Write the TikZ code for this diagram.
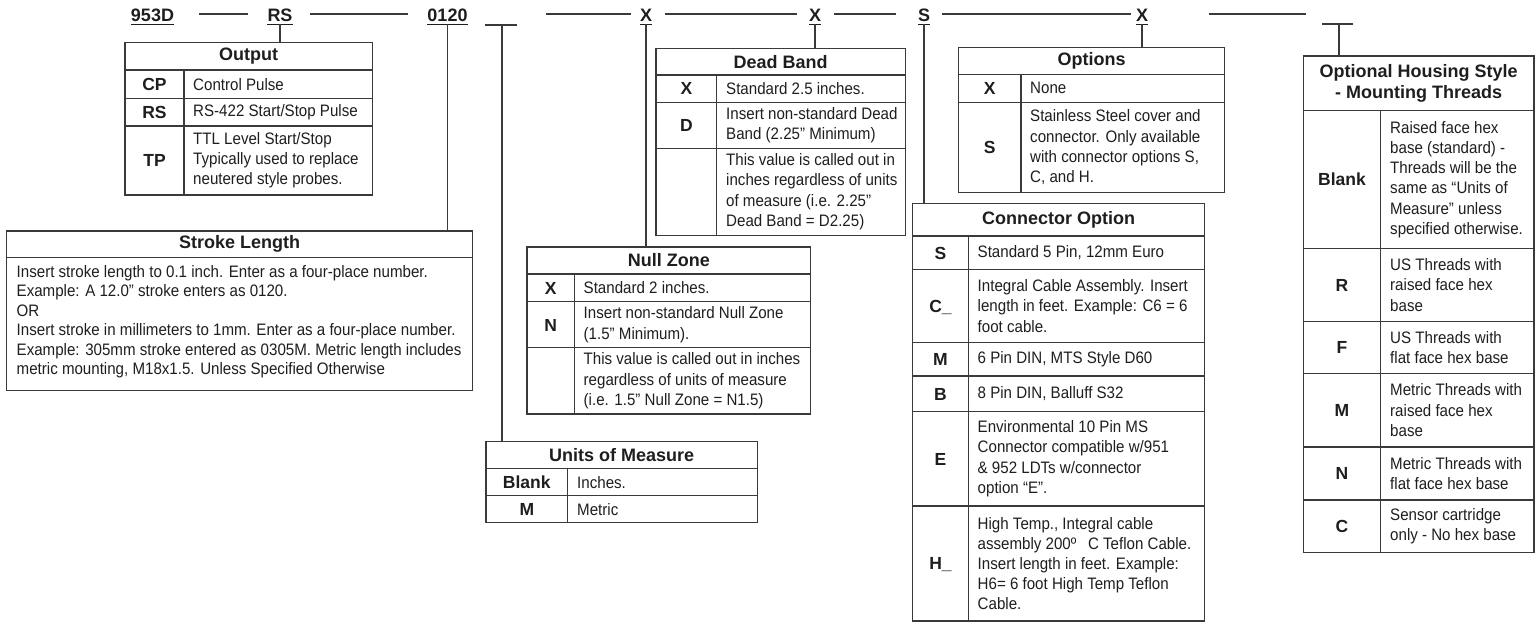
\documentclass[tikz,border=0pt]{standalone}
\usepackage{fontspec}
\setmainfont{Liberation Sans}
\newfontfamily\bodyfnt{Liberation Sans}[FakeStretch=0.91]
\definecolor{lc}{HTML}{3A3A3A}
\definecolor{tc}{HTML}{1E1E1E}
\tikzset{
  tb/.style={draw=lc, line width=1.3pt, inner sep=0pt, outer sep=0pt},
  cn/.style={draw=lc, line width=1.1pt},
  ul/.style={draw=tc, line width=1.1pt},
  dsh/.style={draw=lc, line width=1.3pt},
  hd/.style={font=\fontsize{18}{20.5}\selectfont\bfseries, text=tc, inner sep=0pt, align=center},
  ky/.style={font=\fontsize{17.5}{20}\selectfont\bfseries, text=tc, inner sep=0pt, text height=12.6pt, text depth=0pt},
  ds/.style={font=\bodyfnt\fontsize{16.6}{20.2}\selectfont, text=tc, inner sep=0pt, anchor=west, align=left},
  lbl/.style={font=\fontsize{18}{20}\selectfont\bfseries, text=tc, inner sep=0pt, anchor=base},
}
\newcommand\mktbl[5]{\node[tb, anchor=north west, minimum width={#3-#2}, minimum height={#5-#4}] (#1) at (#2,#4) {};}
\begin{document}
\begin{tikzpicture}[x=1pt,y=-1pt]
\useasboundingbox (0,0) rectangle (1539,623);
% ---------- top code line ----------
\node[lbl] (l953) at (152.5,21.5) {953D};
\node[lbl] (lRS) at (280,21.5) {RS};
\node[lbl] (l0120) at (447.5,21.5) {0120};
\node[lbl] (lXa) at (646,21.5) {X};
\node[lbl] (lXb) at (815,21.5) {X};
\node[lbl] (lS) at (924,21.5) {S};
\node[lbl] (lXc) at (1142,21.5) {X};
\foreach \n in {l953,lRS,l0120,lXa,lXb,lS,lXc}{
  \draw[ul] ([yshift=-2.6pt]\n.base west) -- ([yshift=-2.6pt]\n.base east);
}
\draw[dsh] (199,14) -- (248,14);
\draw[dsh] (310,14) -- (408,14);
\draw[dsh] (546,14) -- (631,14);
\draw[dsh] (665,14) -- (797,14);
\draw[dsh] (834,14) -- (896,14);
\draw[dsh] (942,14) -- (1131,14);
\draw[dsh] (1209,14) -- (1306,14);
\coordinate (bUa) at (485,25); \coordinate (bUb) at (517,25); \coordinate (bU) at (502,25);
\coordinate (bHa) at (1322,24); \coordinate (bHb) at (1353,24); \coordinate (bH) at (1339,24);
\draw[dsh] (bUa) -- (bUb);
\draw[dsh] (bHa) -- (bHb);
% ---------- Output ----------
\mktbl{out}{125}{372.3}{42.3}{195}
\draw[tb] (125,70) -- (372.3,70) (125,98.3) -- (372.3,98.3) (125,126) -- (372.3,126) (184,70) -- (184,195);
\node[hd] (outH) at (248.6,56.2) {Output};
\node[ky] (outK1) at (154.5,84.2) {CP};
\node[ds] (outD1) at (193,84.2) {Control Pulse};
\node[ky] (outK2) at (154.5,112.2) {RS};
\node[ds] (outD2) at (193,112.2) {RS-422 Start/Stop Pulse};
\node[ky] (outK3) at (154.5,160.5) {TP};
\node[ds] (outD3) at (193,160.5) {TTL Level Start/Stop\\Typically used to replace\\neutered style probes.};
% ---------- Stroke Length ----------
\mktbl{stk}{6.7}{472.7}{231}{390.7}
\draw[tb] (6.7,257.7) -- (472.7,257.7);
\node[hd] (stkH) at (239.7,244.3) {Stroke Length};
\node[ds, font=\bodyfnt\fontsize{16.6}{19.5}\selectfont] (stkD) at (16.5,321.5) {Insert stroke length to 0.1 inch. Enter as a four-place number.\\Example: A 12.0” stroke enters as 0120.\\OR\\Insert stroke in millimeters to 1mm. Enter as a four-place number.\\Example: 305mm stroke entered as 0305M. Metric length includes\\metric mounting, M18x1.5. Unless Specified Otherwise};
% ---------- Dead Band ----------
\mktbl{ddb}{656}{905.3}{48.3}{235.3}
\draw[tb] (656,75) -- (905.3,75) (656,102.3) -- (905.3,102.3) (656,148.3) -- (905.3,148.3) (716.7,75) -- (716.7,235.3);
\node[hd] (ddbH) at (780.7,61.7) {Dead Band};
\node[ky] (ddbK1) at (686.4,88.7) {X};
\node[ds] (ddbD1) at (726,88.7) {Standard 2.5 inches.};
\node[ky] (ddbK2) at (686.4,125.3) {D};
\node[ds] (ddbD2) at (726,125.3) {Insert non-standard Dead\\Band (2.25” Minimum)};
\node[ds] (ddbD3) at (726,191.8) {This value is called out in\\inches regardless of units\\of measure (i.e. 2.25”\\Dead Band = D2.25)};
% ---------- Null Zone ----------
\mktbl{nz}{527}{810.7}{247}{414}
\draw[tb] (527,274) -- (810.7,274) (527,301.7) -- (810.7,301.7) (527,347.7) -- (810.7,347.7) (574.3,274) -- (574.3,414);
\node[hd] (nzH) at (668.8,260.5) {Null Zone};
\node[ky] (nzK1) at (550.6,287.8) {X};
\node[ds] (nzD1) at (583.5,287.8) {Standard 2 inches.};
\node[ky] (nzK2) at (550.6,324.7) {N};
\node[ds] (nzD2) at (583.5,324.7) {Insert non-standard Null Zone\\(1.5” Minimum).};
\node[ds] (nzD3) at (583.5,380.8) {This value is called out in inches\\regardless of units of measure\\(i.e. 1.5” Null Zone = N1.5)};
% ---------- Units of Measure ----------
\mktbl{um}{486}{757.3}{441.7}{522.7}
\draw[tb] (486,468.7) -- (757.3,468.7) (486,495.7) -- (757.3,495.7) (567.7,468.7) -- (567.7,522.7);
\node[hd] (umH) at (621.6,455.2) {Units of Measure};
\node[ky] (umK1) at (526.8,482.2) {Blank};
\node[ds] (umD1) at (577,482.2) {Inches.};
\node[ky] (umK2) at (526.8,509.2) {M};
\node[ds] (umD2) at (577,509.2) {Metric};
% ---------- Options ----------
\mktbl{opt}{958.7}{1224.3}{47.3}{192.3}
\draw[tb] (958.7,74.3) -- (1224.3,74.3) (958.7,102.3) -- (1224.3,102.3) (1021,74.3) -- (1021,192.3);
\node[hd] (optH) at (1091.5,60.8) {Options};
\node[ky] (optK1) at (989.8,88.3) {X};
\node[ds] (optD1) at (1030,88.3) {None};
\node[ky] (optK2) at (989.8,147.3) {S};
\node[ds] (optD2) at (1030,147.3) {Stainless Steel cover and\\connector. Only available\\with connector options S,\\C, and H.};
% ---------- Connector Option ----------
\mktbl{con}{912.7}{1204.2}{203.3}{621}
\draw[tb] (912.7,236) -- (1204.2,236) (912.7,269.3) -- (1204.2,269.3) (912.7,342.7) -- (1204.2,342.7)
  (912.7,376) -- (1204.2,376) (912.7,411.7) -- (1204.2,411.7) (912.7,506) -- (1204.2,506) (968.3,236) -- (968.3,621);
\node[hd] (conH) at (1058.5,219.7) {Connector Option};
\node[ky] (conK1) at (940.5,252.7) {S};
\node[ds] (conD1) at (977.5,252.7) {Standard 5 Pin, 12mm Euro};
\node[ky] (conK2) at (940.5,306) {C\_};
\node[ds] (conD2) at (977.5,306) {Integral Cable Assembly. Insert\\length in feet. Example: C6 = 6\\foot cable.};
\node[ky] (conK3) at (940.5,359.3) {M};
\node[ds] (conD3) at (977.5,359.3) {6 Pin DIN, MTS Style D60};
\node[ky] (conK4) at (940.5,393.8) {B};
\node[ds] (conD4) at (977.5,393.8) {8 Pin DIN, Balluff S32};
\node[ky] (conK5) at (940.5,458.8) {E};
\node[ds] (conD5) at (977.5,458.8) {Environmental 10 Pin MS\\Connector compatible w/951\\\& 952 LDTs w/connector\\option “E”.};
\node[ky] (conK6) at (940.5,563.5) {H\_};
\node[ds] (conD6) at (977.5,563.5) {High Temp., Integral cable\\assembly 200º\hspace{0.7em}C Teflon Cable.\\Insert length in feet. Example:\\H6= 6 foot High Temp Teflon\\Cable.};
% ---------- Optional Housing ----------
\mktbl{hou}{1303.3}{1534}{56}{552.7}
\draw[tb] (1303.3,110.7) -- (1534,110.7) (1303.3,248.3) -- (1534,248.3) (1303.3,321.7) -- (1534,321.7)
  (1303.3,373.3) -- (1534,373.3) (1303.3,447) -- (1534,447) (1303.3,500) -- (1534,500) (1380.7,110.7) -- (1380.7,552.7);
\node[hd] (houH) at (1418.7,83.3) {Optional Housing Style\\- Mounting Threads};
\node[ky] (houK1) at (1342,179.5) {Blank};
\node[ds] (houD1) at (1390,179.5) {Raised face hex\\base (standard) -\\Threads will be the\\same as “Units of\\Measure” unless\\specified otherwise.};
\node[ky] (houK2) at (1342,285) {R};
\node[ds] (houD2) at (1390,285) {US Threads with\\raised face hex\\base};
\node[ky] (houK3) at (1342,347.5) {F};
\node[ds] (houD3) at (1390,347.5) {US Threads with\\flat face hex base};
\node[ky] (houK4) at (1342,410.2) {M};
\node[ds] (houD4) at (1390,410.2) {Metric Threads with\\raised face hex\\base};
\node[ky] (houK5) at (1342,473.5) {N};
\node[ds] (houD5) at (1390,473.5) {Metric Threads with\\flat face hex base};
\node[ky] (houK6) at (1342,526.3) {C};
\node[ds] (houD6) at (1390,526.3) {Sensor cartridge\\only - No hex base};
% ---------- connectors ----------
\draw[cn] ([yshift=-2.6pt]lRS.base) -- (lRS.base |- out.north);
\draw[cn] ([yshift=-2.6pt]l0120.base) -- (l0120.base |- stk.north);
\draw[cn] (bU) -- (bU |- um.north);
\draw[cn] ([yshift=-2.6pt]lXa.base) -- (lXa.base |- nz.north);
\draw[cn] ([yshift=-2.6pt]lXb.base) -- (lXb.base |- ddb.north);
\draw[cn] ([yshift=-2.6pt]lS.base) -- (lS.base |- con.north);
\draw[cn] ([yshift=-2.6pt]lXc.base) -- (lXc.base |- opt.north);
\draw[cn] (bH) -- (bH |- hou.north);
\end{tikzpicture}
\end{document}
